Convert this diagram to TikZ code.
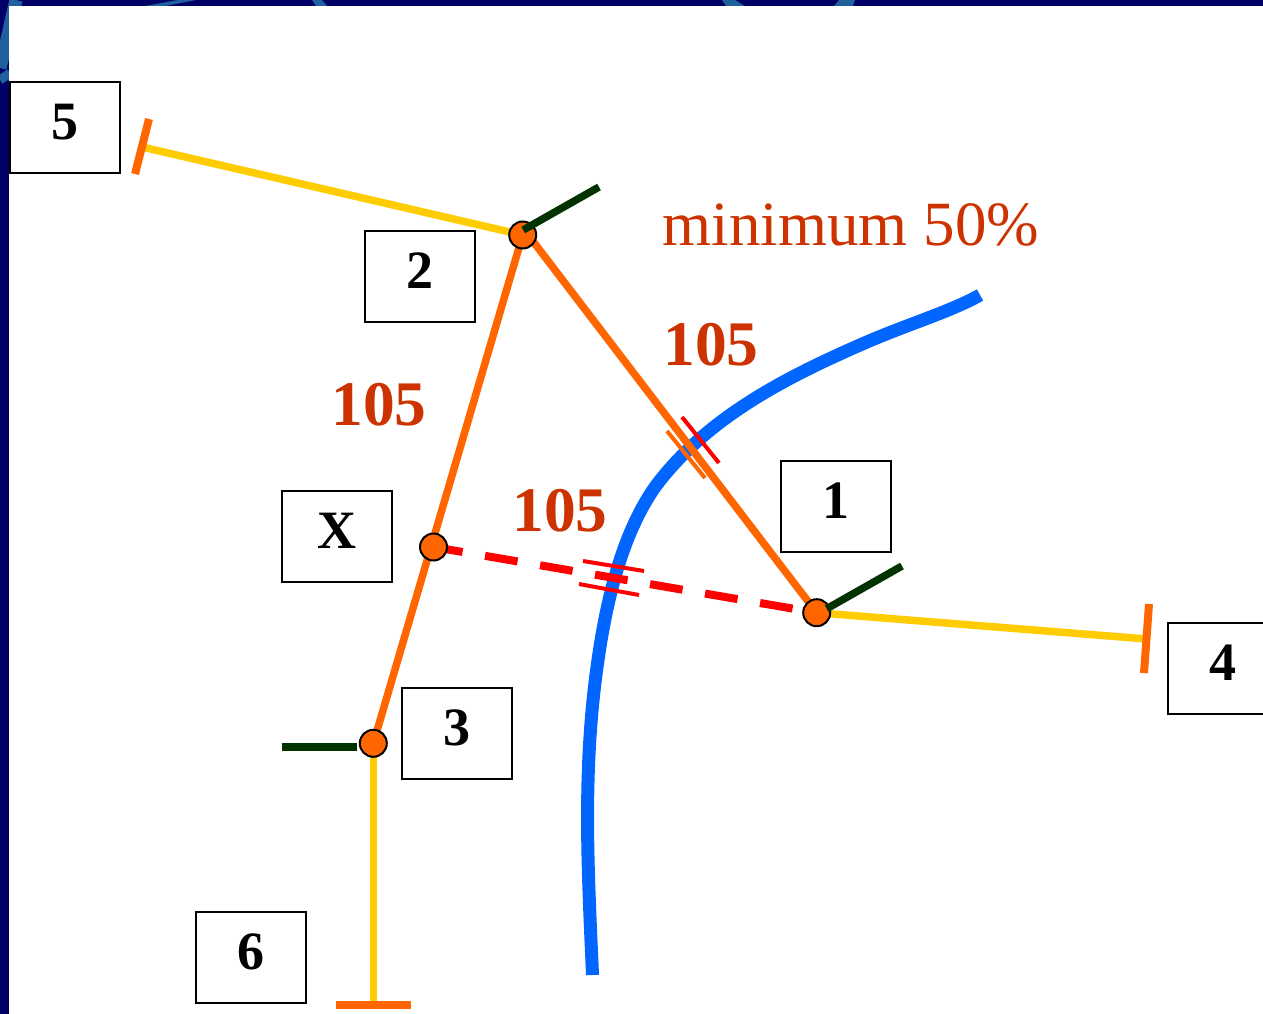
\documentclass[tikz,border=0pt]{standalone}
\usepackage{fontspec}
\setmainfont{Liberation Serif}
\usetikzlibrary{positioning,calc}
\definecolor{panelnavy}{HTML}{000066}
\definecolor{swirlblue}{HTML}{20609C}
\definecolor{roadblue}{HTML}{0066FF}
\definecolor{legorange}{HTML}{FF6600}
\definecolor{stubyellow}{HTML}{FFCC00}
\definecolor{stubgreen}{HTML}{003300}
\definecolor{labelrust}{HTML}{CC3300}

\begin{document}
\begin{tikzpicture}[
    x=1pt, y=-1pt,
    every node/.style={font=\fontsize{54}{58}\selectfont\bfseries},
    tagbox/.style={rectangle, draw=black, line width=2pt, fill=white,
                   minimum width=110pt, minimum height=91pt, inner sep=0pt,
                   text height=34pt, text depth=10pt},
    junction/.style={circle, draw=black, line width=2pt, fill=legorange,
                     minimum size=27pt, inner sep=0pt},
    leg/.style={legorange, line width=7.5pt},
    stub/.style={stubyellow, line width=7.5pt},
    spur/.style={stubgreen, line width=7.5pt},
    endbar/.style={legorange, line width=8pt},
    dimtext/.style={font=\fontsize{63.5}{66}\selectfont\bfseries, text=labelrust, inner sep=0pt},
]
\useasboundingbox (0,0) rectangle (1263,1014);

% Backdrop
\fill[panelnavy] (0,0) rectangle (1263,1014);
\draw[swirlblue, line width=13pt] (0,68) .. controls (6,45) and (10,25) .. (16,0);
\draw[swirlblue, line width=9pt] (0,80) -- (10,73);
\fill[swirlblue] (145,6) -- (178,0) -- (196,0) -- (165,6) -- cycle;
\fill[swirlblue] (312,0) -- (322,0) -- (327,6) -- (316,6) -- cycle;
\fill[swirlblue] (722,0) -- (735,0) -- (745,6) -- (726,6) -- cycle;
\fill[swirlblue] (839,0) -- (855,0) -- (853,6) -- (834,6) -- cycle;
\fill[white] (9,6) rectangle (1263,1014);

% Road edge
\draw[roadblue, line width=13pt] (592.5,975) .. controls (588,870) and (582,770) .. (598,660)
    .. controls (608,590) and (625,530) .. (655,487)
    .. controls (705,420) and (780,380) .. (860,345)
    .. controls (905,325) and (950,312) .. (980,295);

% Tags
\node[tagbox] (t5) at (65,127.7) {5};
\node[tagbox] (t2) at (419.7,276.7) {2};
\node[tagbox] (t1) at (836,506.7) {1};
\node[tagbox] (tx) at (337,536.3) {X};
\node[tagbox] (t3) at (457,733.7) {3};
\node[tagbox] (t4) at (1223,668.7) {4};
\node[tagbox] (t6) at (251,957.7) {6};

% Free ends
\coordinate (e5) at (142,147);
\coordinate (e4) at (1146.5,639);
\coordinate (e6) at (373.3,1004.7);
\coordinate (g2) at (599,187);
\coordinate (g1) at (902,566);
\coordinate (g3) at (282,747);
\coordinate (b5a) at (149,119);
\coordinate (b5b) at (135,174);
\coordinate (b4a) at (1149,604);
\coordinate (b4b) at (1144,673);
\coordinate (b6a) at (336,1004.7);
\coordinate (b6b) at (411,1004.7);
\coordinate (m1a) at (667,431);
\coordinate (m1b) at (705,478);
\coordinate (m2a) at (682,417);
\coordinate (m2b) at (719,463);
\coordinate (m3a) at (583,561);
\coordinate (m3b) at (644,571);
\coordinate (m4a) at (579,584);
\coordinate (m4b) at (639,595);

% Junction centres first, legs run underneath
\coordinate (c2) at (522.7,235);
\coordinate (c1) at (816.7,612.7);
\coordinate (cx) at (433.5,547);
\coordinate (c3) at (373.3,743.3);

% Legs
\draw[leg] ([xshift=5.5pt]c2) -- (c1);
\draw[leg] (c2) -- (c3);
\draw[red, line width=8pt, dash pattern=on 33pt off 22.8pt, dash phase=3.5pt] (cx) -- (c1);
\draw[stub] (c2) -- (e5);
\draw[stub] (c1) -- (e4);
\draw[stub] (c3) -- (e6);
\draw[endbar] (b5a) -- (b5b);
\draw[endbar] (b4a) -- (b4b);
\draw[endbar] (b6a) -- (b6b);

% Crossing marks
\draw[legorange, line width=4pt] (m1a) -- (m1b);
\draw[red, line width=4pt] (m2a) -- (m2b);
\draw[red, line width=4pt] (m3a) -- (m3b);
\draw[red, line width=4pt] (m4a) -- (m4b);

% Junctions
\node[junction] (p2) at (c2) {};
\node[junction] (p1) at (c1) {};
\node[junction] (px) at (cx) {};
\node[junction] (p3) at (c3) {};

% Spurs sit on the junctions
\draw[spur] ([shift={(0.5,-5)}]p2.center) -- (g2);
\draw[spur] ([shift={(10,-4)}]p1.center) -- (g1);
\draw[spur] ([shift={(-16,3.7)}]p3.center) -- (g3);

% Labels
\node[font=\fontsize{63}{66}\selectfont, text=labelrust, inner sep=0pt] (minlabel) at (851,224.5) {minimum 50\%};
\node[dimtext] (d1) at (711,344.5) {105};
\node[dimtext] (d2) at (379,404.5) {105};
\node[dimtext] (d3) at (560,510.5) {105};

\end{tikzpicture}
\end{document}
